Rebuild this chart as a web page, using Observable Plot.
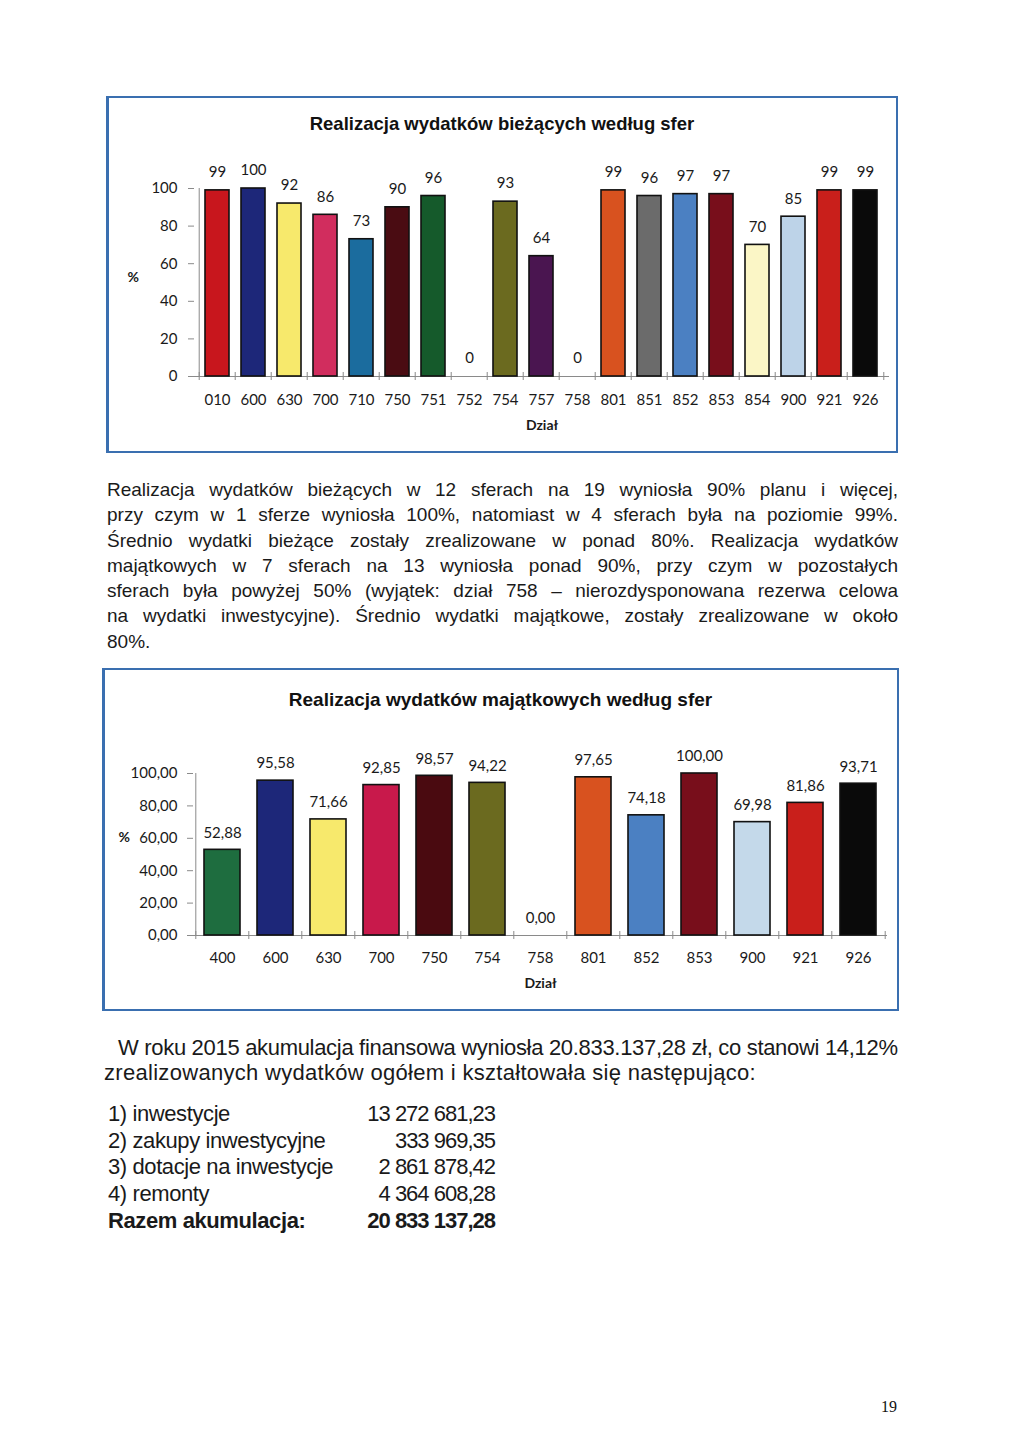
<!DOCTYPE html>
<html lang="pl">
<head>
<meta charset="utf-8">
<script src="https://cdn.jsdelivr.net/npm/d3@7"></script>
<script src="https://cdn.jsdelivr.net/npm/@observablehq/plot@0.6"></script>
<style>
  html, body { margin: 0; padding: 0; background: #fff; }
  body { width: 1024px; height: 1456px; position: relative; overflow: hidden; color: #111; }
  .frame { position: absolute; box-sizing: border-box; border: 2px solid #3a6fb0; border-left-width: 3px; }
  .ctitle { position: absolute; font-family: "Liberation Sans", Arial, sans-serif; font-weight: bold; color: #111; text-align: center; line-height: 22px; }
  .chart { position: absolute; }
  .para { position: absolute; left: 107px; width: 791px; font-family: "Liberation Sans", Arial, sans-serif; font-size: 19px; line-height: 25.3px; color: #1a1a1a; }
  .para div { white-space: nowrap; text-align: justify; text-align-last: justify; }
  .para div.last { text-align-last: left; }
  .acc { position: absolute; font-family: "Liberation Sans", Arial, sans-serif; font-size: 22px; line-height: 25px; color: #1a1a1a; }
  .acc div { white-space: nowrap; }
  table.acc { border-collapse: collapse; }
  table.acc td { padding: 0; height: 26.7px; white-space: nowrap; }
  table.acc td.lab { letter-spacing: -0.4px; }
  table.acc td.val { letter-spacing: -1px; text-align: right; }
  .pageno { position: absolute; left: 881px; top: 1398px; font-family: "Liberation Serif", "DejaVu Serif", serif; font-size: 16px; }
</style>
</head>
<body>

<div class="frame" style="left:106px; top:96px; width:792px; height:357px;"></div>
<div class="ctitle" style="left:106px; width:792px; top:113px; font-size:18.5px;">Realizacja wydatków bieżących według sfer</div>
<div class="chart" id="chart1" style="left:106px; top:140px;"></div>

<div class="para" style="top:477px;">
  <div>Realizacja wydatków bieżących w 12 sferach na 19 wyniosła 90% planu i więcej,</div>
  <div>przy czym w 1 sferze wyniosła 100%, natomiast w 4 sferach była na poziomie 99%.</div>
  <div>Średnio wydatki bieżące zostały zrealizowane w ponad 80%. Realizacja wydatków</div>
  <div>majątkowych w 7 sferach na 13 wyniosła ponad 90%, przy czym w pozostałych</div>
  <div>sferach była powyżej 50% (wyjątek: dział 758 – nierozdysponowana rezerwa celowa</div>
  <div>na wydatki inwestycyjne). Średnio wydatki majątkowe, zostały zrealizowane w około</div>
  <div class="last">80%.</div>
</div>

<div class="frame" style="left:102px; top:668px; width:797px; height:343px;"></div>
<div class="ctitle" style="left:102px; width:797px; top:689px; font-size:19px;">Realizacja wydatków majątkowych według sfer</div>
<div class="chart" id="chart2" style="left:104px; top:730px;"></div>

<div class="acc" style="left:104px; top:1035px; width:794px;">
  <div style="padding-left:14px;"><span id="accline1">W roku 2015 akumulacja finansowa wyniosła 20.833.137,28 zł, co stanowi 14,12%</span></div>
  <div style="letter-spacing:0.3px;">zrealizowanych wydatków ogółem i kształtowała się następująco:</div>
</div>

<table class="acc" id="acctable" style="left:108px; top:1100px;"></table>

<div class="pageno">19</div>

<script>
// ---- Data: wydatki bieżące ----
const dzialyBiezace = ["010","600","630","700","710","750","751","752","754","757","758","801","851","852","853","854","900","921","926"];
const realizacjaBiezace = [99,100,92,86,73,90,96,0,93,64,0,99,96,97,97,70,85,99,99];
const koloryBiezace = ["#c8161d","#1d2779","#f7e96c","#d12d5e","#1b6c9e","#4a0c12","#155a2b","#ffffff","#6b6a1f","#4a1550","#ffffff","#d8521f","#6b6b6b","#4b80c2","#780e1b","#fbf6c6","#bdd3e8","#c91f1b","#0a0a0a"];
const ticksBiezace = [0,20,40,60,80,100];

// ---- Data: wydatki majątkowe ----
const dzialyMajatkowe = ["400","600","630","700","750","754","758","801","852","853","900","921","926"];
const realizacjaMajatkowe = [52.88,95.58,71.66,92.85,98.57,94.22,0,97.65,74.18,100.00,69.98,81.86,93.71];
const koloryMajatkowe = ["#1e6d3f","#1d2779","#f7e96c","#c8194b","#4a0a10","#6b6a1f","#ffffff","#d8521f","#4b80c2","#780e1b","#c4d9ea","#c91f1b","#0a0a0a"];
const ticksMajatkowe = [0,20,40,60,80,100];

// ---- Data: akumulacja ----
const pozycjeAkumulacji = ["1) inwestycje","2) zakupy inwestycyjne","3) dotacje na inwestycje","4) remonty"];
const kwotyAkumulacji = ["13 272 681,23","333 969,35","2 861 878,42","4 364 608,28"];
const razemEtykieta = "Razem akumulacja:";
const razemKwota = "20 833 137,28";

const plFmt2 = v => d3.format(".2f")(v).replace(".", ",");

function barChart({cats, vals, colors, ticks, tickFmt, labelFmt, width, height, ml, mr, mt, mb, tickPad, labelDy, dzialDy, pctDy, pctDx, ytickPad}) {
  const data = cats.map((c, i) => ({dzial: c, v: vals[i]}));
  const step = (width - ml - mr) / cats.length;
  return Plot.plot({
    width, height,
    marginLeft: ml, marginRight: mr, marginTop: mt, marginBottom: mb,
    style: {fontFamily: "Lato, 'Open Sans', sans-serif", fontSize: "15px", background: "transparent", color: "#1a1a1a", overflow: "visible"},
    x: {type: "band", domain: cats, paddingInner: 0.32, paddingOuter: 0.16, axis: null},
    y: {domain: [0, 100], axis: null},
    color: {type: "ordinal", domain: cats, range: colors},
    marks: [
      Plot.axisY({ticks, tickFormat: tickFmt, tickSize: 6, tickPadding: ytickPad, stroke: "#8a8a8a", label: null, fontSize: 15}),
      Plot.axisX({tickSize: 0, tickPadding: tickPad, label: null, fontSize: 15}),
      Plot.ruleY([0], {stroke: "#8a8a8a"}),
      Plot.ruleX([cats[0]], {dx: -step / 2, y1: 0, y2: 100, stroke: "#8a8a8a"}),
      Plot.ruleX(cats, {x: d => d, dx: -step / 2, y1: 0, y2: 0, insetTop: -4, insetBottom: -4, stroke: "#8a8a8a"}),
      Plot.ruleX([cats[cats.length - 1]], {x: d => d, dx: step / 2, y1: 0, y2: 0, insetTop: -4, insetBottom: -4, stroke: "#8a8a8a"}),
      Plot.barY(data.filter(d => d.v > 0), {x: "dzial", y: "v", fill: "dzial", stroke: "#111", strokeWidth: 1.6}),
      Plot.text(data, {x: "dzial", y: "v", text: d => labelFmt(d.v), dy: labelDy, lineAnchor: "middle", fontSize: 15, fill: "#1a1a1a"}),
      Plot.text(["Dział"], {frameAnchor: "bottom", dy: dzialDy, fontWeight: "bold", fontSize: 14, lineAnchor: "middle"}),
      Plot.text(["%"], {frameAnchor: "left", dx: pctDx, dy: pctDy, fontSize: 14, fontWeight: "bold", lineAnchor: "middle"})
    ]
  });
}

document.getElementById("chart1").append(barChart({
  cats: dzialyBiezace, vals: realizacjaBiezace, colors: koloryBiezace, ticks: ticksBiezace,
  tickFmt: d3.format("d"), labelFmt: d3.format("d"),
  width: 790, height: 300, ml: 88, mr: 7, mt: 48, mb: 64,
  tickPad: 18, labelDy: -18, dzialDy: 49, pctDx: -67, pctDy: -5, ytickPad: 11
}));

document.getElementById("chart2").append(barChart({
  cats: dzialyMajatkowe, vals: realizacjaMajatkowe, colors: koloryMajatkowe, ticks: ticksMajatkowe,
  tickFmt: plFmt2, labelFmt: plFmt2,
  width: 792, height: 270, ml: 89, mr: 9, mt: 43, mb: 65,
  tickPad: 17, labelDy: -17, dzialDy: 48, pctDx: -75, pctDy: -17, ytickPad: 10
}));

// Fit first accumulation line to its justified width (780px) via letter-spacing
(function () {
  const span = document.getElementById("accline1");
  const target = 780;
  const w = span.getBoundingClientRect().width;
  const n = span.textContent.length;
  span.style.letterSpacing = ((target - w) / (n - 1)) + "px";
})();

// Table
const tbl = document.getElementById("acctable");
pozycjeAkumulacji.forEach((p, i) => {
  const tr = document.createElement("tr");
  tr.innerHTML = `<td class="lab" style="width:250px">${p}</td><td class="val" style="width:137px">${kwotyAkumulacji[i]}</td>`;
  tbl.append(tr);
});
const trR = document.createElement("tr");
trR.innerHTML = `<td class="lab" style="font-weight:bold">${razemEtykieta}</td><td class="val" style="font-weight:bold">${razemKwota}</td>`;
tbl.append(trR);
</script>
</body>
</html>
